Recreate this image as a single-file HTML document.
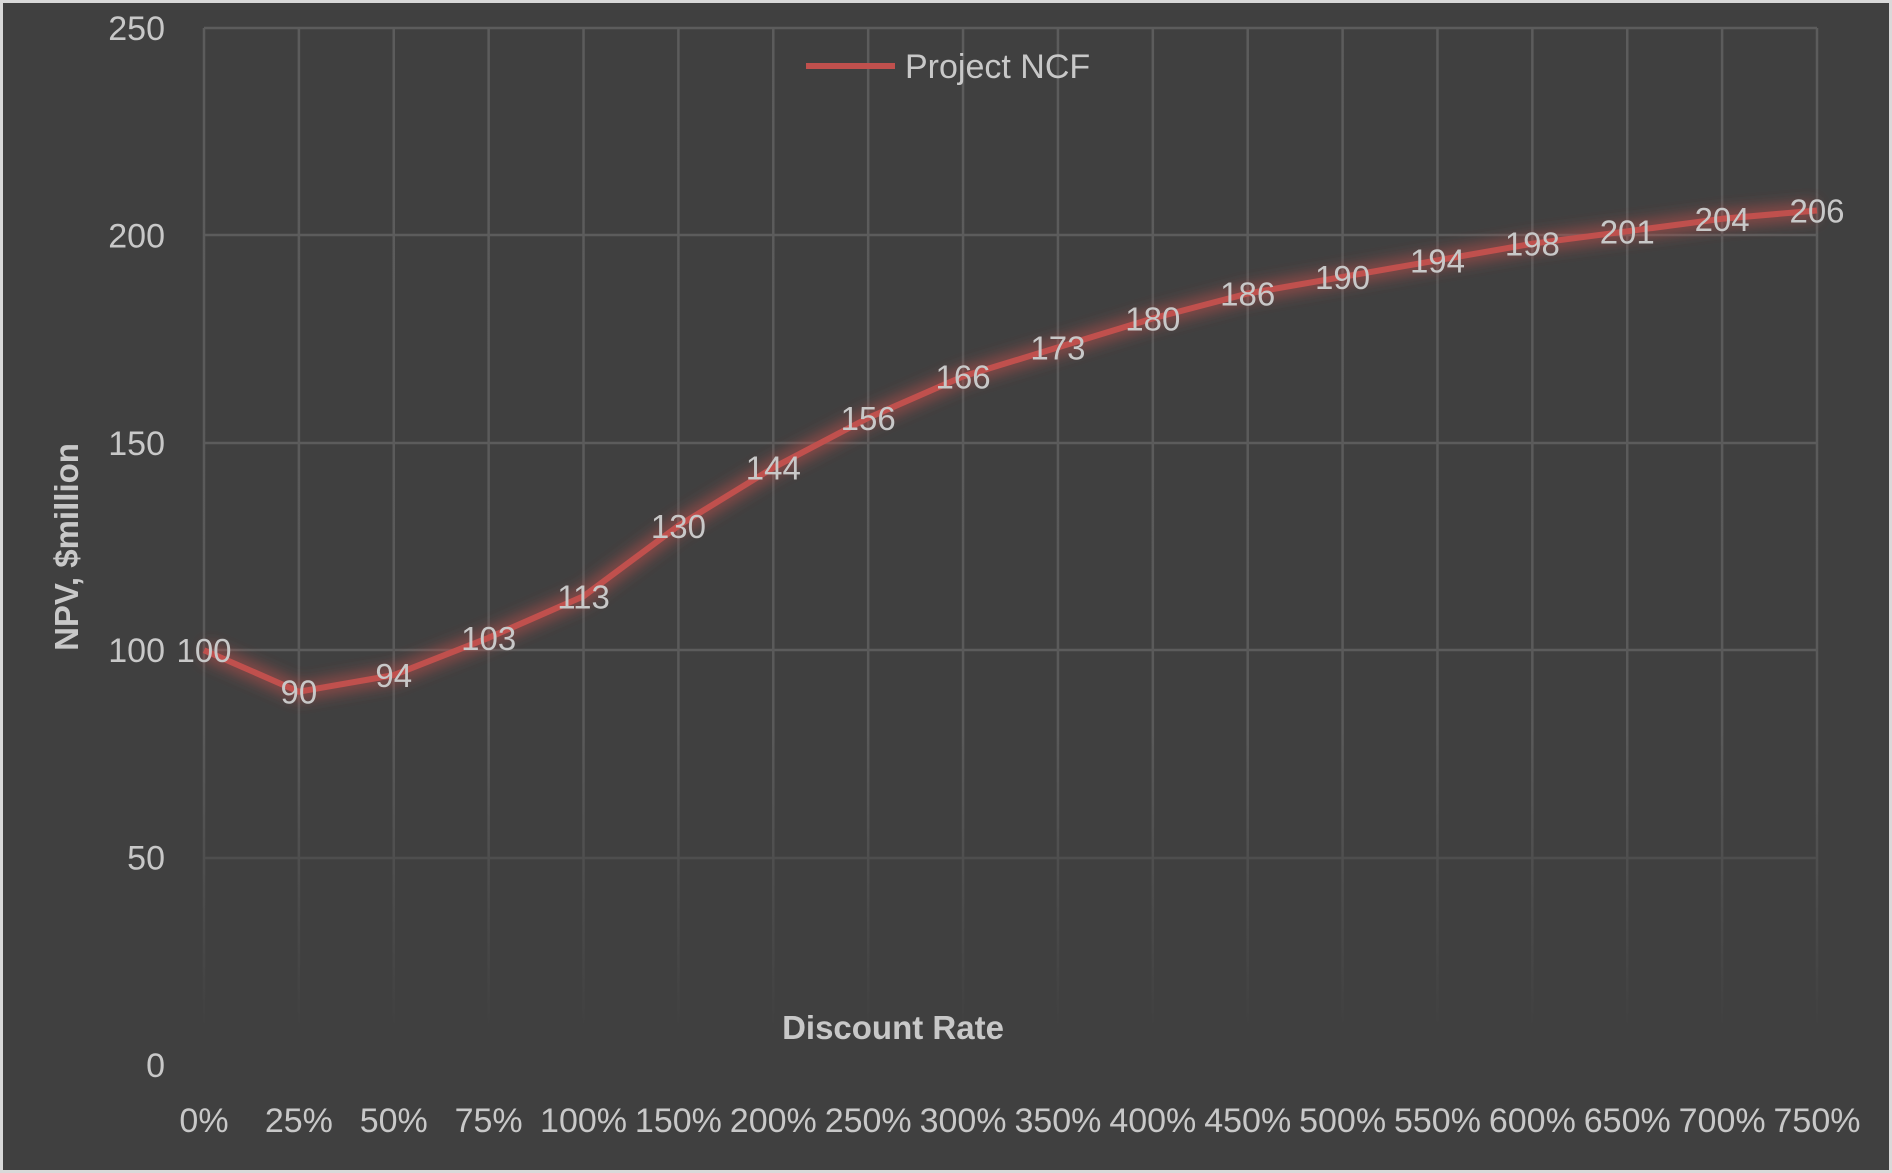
<!DOCTYPE html>
<html><head><style>
html,body{margin:0;padding:0;background:#d9d9d9}
svg{display:block}
text{font-family:"Liberation Sans",sans-serif;fill:#c8c8c8}
</style></head><body>
<svg width="1892" height="1173" viewBox="0 0 1892 1173">
<defs>
<linearGradient id="vg" gradientUnits="userSpaceOnUse" x1="0" y1="28" x2="0" y2="1030">
<stop offset="0" stop-color="#5c5c5c"/><stop offset="0.7" stop-color="#5a5a5a"/><stop offset="1" stop-color="#404040"/>
</linearGradient>
<filter id="glow" x="-10%" y="-20%" width="120%" height="140%"><feGaussianBlur stdDeviation="7"/></filter>
</defs>
<rect x="3" y="3" width="1886" height="1167" fill="#404040"/>
<g stroke="#5c5c5c" stroke-width="2.5">
<line x1="204" y1="28" x2="1817" y2="28"/>
<line x1="204" y1="235" x2="1817" y2="235"/>
<line x1="204" y1="443" x2="1817" y2="443"/>
<line x1="204" y1="650" x2="1817" y2="650"/>
<line x1="204" y1="858" x2="1817" y2="858" stroke="#4e4e4e"/>
</g>
<g id="v" stroke="url(#vg)" stroke-width="2.5"></g>
<g id="yl" font-size="34" text-anchor="end"></g>
<g id="xl" font-size="34" text-anchor="middle"></g>
<text x="893" y="1039" font-size="33" font-weight="bold" text-anchor="middle">Discount Rate</text>
<text transform="translate(78,547) rotate(-90)" font-size="33" font-weight="bold" text-anchor="middle">NPV, $million</text>
<line x1="806" y1="66" x2="895" y2="66" stroke="#c0504d" stroke-width="6"/>
<text x="905" y="78" font-size="34">Project NCF</text>
<polyline id="g1" fill="none" stroke="#c0504d" stroke-opacity="0.55" stroke-width="18" filter="url(#glow)" stroke-linejoin="round"/>
<polyline id="l1" fill="none" stroke="#c0504d" stroke-width="6" stroke-linejoin="round"/>
<g id="dl" font-size="33" text-anchor="middle"></g>
</svg>
<script>
const vals=[100,90,94,103,113,130,144,156,166,173,180,186,190,194,198,201,204,206];
const labs=["0%","25%","50%","75%","100%","150%","200%","250%","300%","350%","400%","450%","500%","550%","600%","650%","700%","750%"];
const X=i=>204+i*(1613/17), Y=v=>1065-v*(1037/250);
const ns="http://www.w3.org/2000/svg";
function el(p,t,a,txt){const e=document.createElementNS(ns,t);for(const k in a)e.setAttribute(k,a[k]);if(txt!==undefined)e.textContent=txt;document.getElementById(p).appendChild(e);}
let pts=vals.map((v,i)=>X(i).toFixed(1)+","+Y(v).toFixed(1)).join(" ");
document.getElementById("g1").setAttribute("points",pts);
document.getElementById("l1").setAttribute("points",pts);
for(let i=0;i<18;i++){
 el("v","line",{x1:X(i),y1:28,x2:X(i),y2:1030});
 el("xl","text",{x:X(i),y:1132},labs[i]);
 el("dl","text",{x:X(i),y:Y(vals[i])+12},vals[i]);
}
[250,200,150,100,50,0].forEach(v=>el("yl","text",{x:165,y:Y(v)+12},v));
</script>
</body></html>
